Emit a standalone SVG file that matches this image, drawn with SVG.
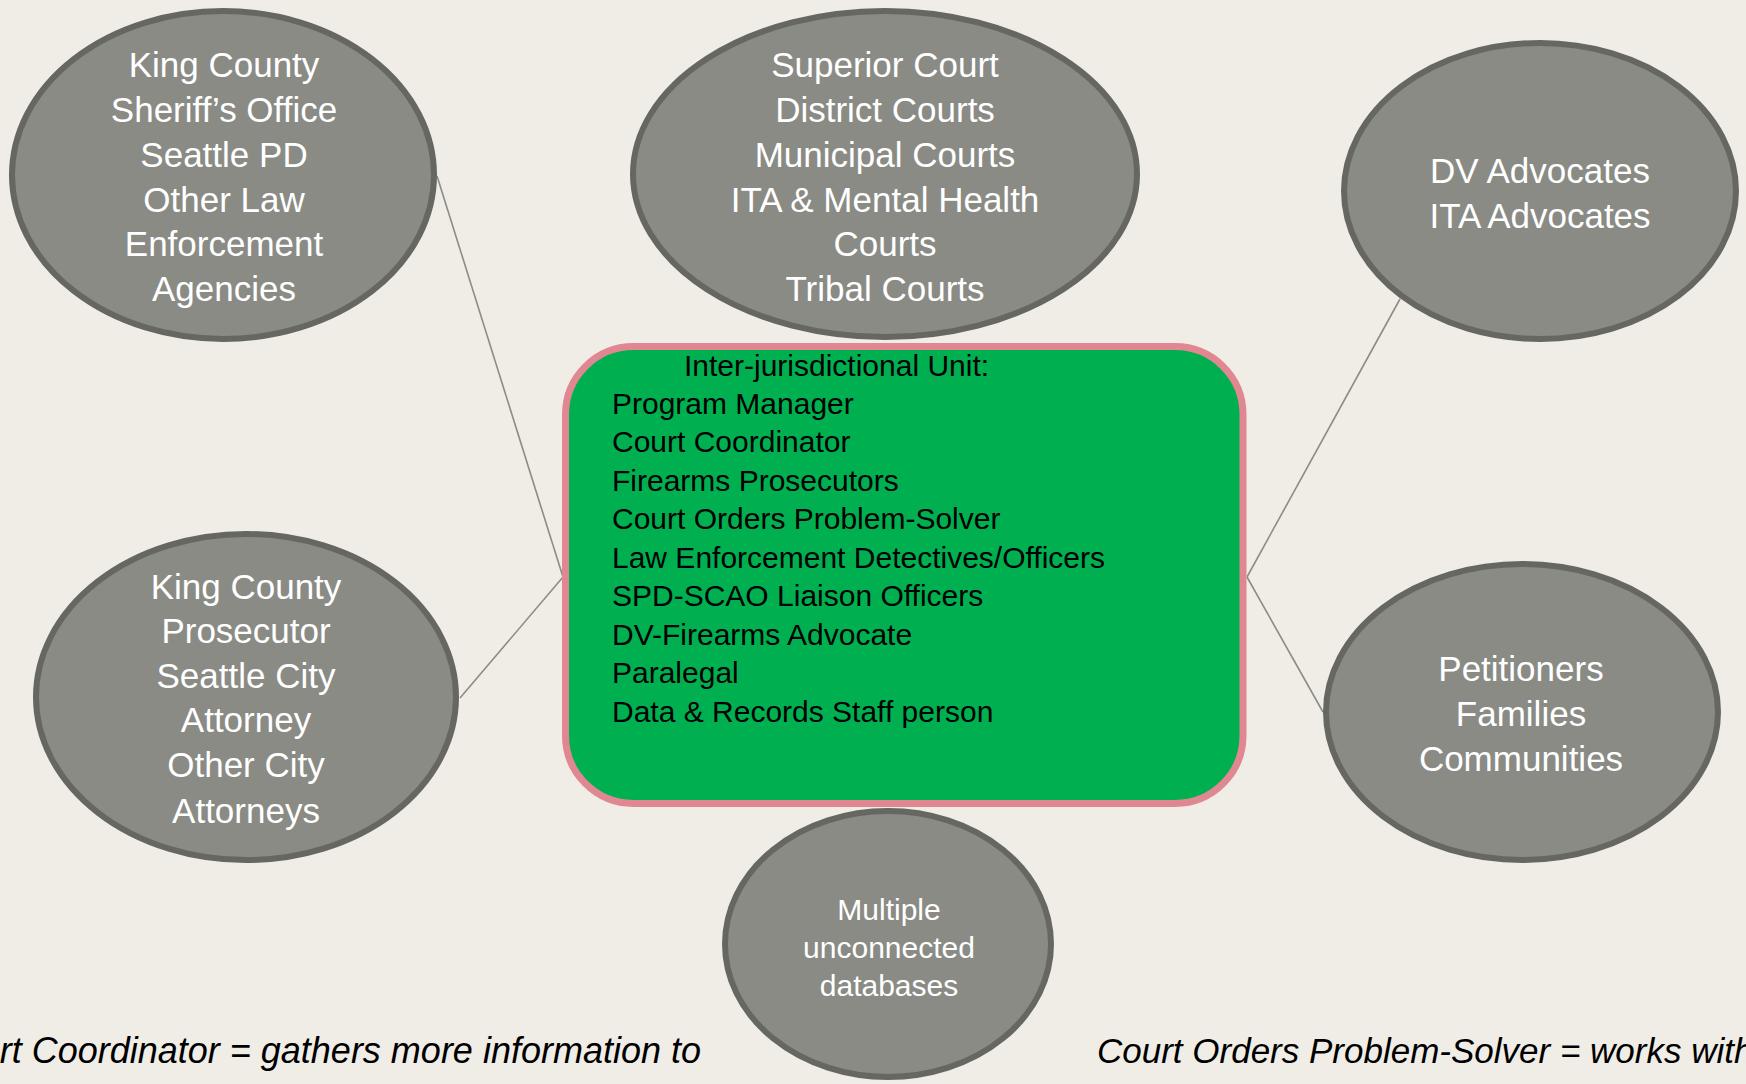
<svg xmlns="http://www.w3.org/2000/svg" width="1746" height="1084" viewBox="0 0 1746 1084">
  <style>
    .bg { fill: #efede6; }
    .oval { fill: #8a8b85; stroke: #666761; stroke-width: 6; }
    .oval-text { font-family: "Liberation Sans", Arial, sans-serif; font-size: 35px; fill: #ffffff; text-anchor: middle; }
    .oval-text.small { font-size: 30px; }
    .unit-box { fill: #00b050; stroke: #e08792; stroke-width: 7; }
    .unit-text { font-family: "Liberation Sans", Arial, sans-serif; font-size: 30px; fill: #000000; }
    .link { stroke: #8c8c84; stroke-width: 1.6; fill: none; }
    .note { font-family: "Liberation Sans", Arial, sans-serif; font-size: 35px; font-style: italic; fill: #000000; }
  </style>

  <rect class="bg" x="0" y="0" width="1746" height="1084"/>

  <!-- links between the unit and the partner groups -->
  <g id="connectors">
    <line class="link" x1="437" y1="176" x2="563" y2="577"/>
    <line class="link" x1="460" y1="698" x2="563" y2="577"/>
    <line class="link" x1="1400" y1="299" x2="1247" y2="577"/>
    <line class="link" x1="1247" y1="577" x2="1323" y2="712"/>
  </g>

  <g id="law-enforcement">
    <ellipse class="oval" cx="223" cy="175" rx="211" ry="164"/>
    <text class="oval-text" x="224" y="77">King County</text>
    <text class="oval-text" x="224" y="122">Sheriff’s Office</text>
    <text class="oval-text" x="224" y="167">Seattle PD</text>
    <text class="oval-text" x="224" y="212">Other Law</text>
    <text class="oval-text" x="224" y="256">Enforcement</text>
    <text class="oval-text" x="224" y="301">Agencies</text>
  </g>

  <g id="courts">
    <ellipse class="oval" cx="885" cy="174" rx="252" ry="163"/>
    <text class="oval-text" x="885" y="77">Superior Court</text>
    <text class="oval-text" x="885" y="122">District Courts</text>
    <text class="oval-text" x="885" y="167">Municipal Courts</text>
    <text class="oval-text" x="885" y="212">ITA &amp; Mental Health</text>
    <text class="oval-text" x="885" y="256">Courts</text>
    <text class="oval-text" x="885" y="301">Tribal Courts</text>
  </g>

  <g id="advocates">
    <ellipse class="oval" cx="1540" cy="191" rx="196" ry="148"/>
    <text class="oval-text" x="1540" y="183">DV Advocates</text>
    <text class="oval-text" x="1540" y="228">ITA Advocates</text>
  </g>

  <g id="prosecutors">
    <ellipse class="oval" cx="246" cy="697" rx="210" ry="163"/>
    <text class="oval-text" x="246" y="599">King County</text>
    <text class="oval-text" x="246" y="643">Prosecutor</text>
    <text class="oval-text" x="246" y="688">Seattle City</text>
    <text class="oval-text" x="246" y="732">Attorney</text>
    <text class="oval-text" x="246" y="777">Other City</text>
    <text class="oval-text" x="246" y="823">Attorneys</text>
  </g>

  <g id="community">
    <ellipse class="oval" cx="1522" cy="712" rx="196" ry="148"/>
    <text class="oval-text" x="1521" y="681">Petitioners</text>
    <text class="oval-text" x="1521" y="726">Families</text>
    <text class="oval-text" x="1521" y="771">Communities</text>
  </g>

  <g id="databases">
    <ellipse class="oval" cx="888" cy="944" rx="163" ry="133"/>
    <text class="oval-text small" x="889" y="920">Multiple</text>
    <text class="oval-text small" x="889" y="958">unconnected</text>
    <text class="oval-text small" x="889" y="996">databases</text>
  </g>

  <g id="inter-jurisdictional-unit">
    <rect class="unit-box" x="565.5" y="346.5" width="677.5" height="457" rx="68" ry="68"/>
    <text class="unit-text" x="684" y="376">Inter-jurisdictional Unit:</text>
    <text class="unit-text" x="612" y="414">Program Manager</text>
    <text class="unit-text" x="612" y="452">Court Coordinator</text>
    <text class="unit-text" x="612" y="491">Firearms Prosecutors</text>
    <text class="unit-text" x="612" y="529">Court Orders Problem-Solver</text>
    <text class="unit-text" x="612" y="568">Law Enforcement Detectives/Officers</text>
    <text class="unit-text" x="612" y="606">SPD-SCAO Liaison Officers</text>
    <text class="unit-text" x="612" y="645">DV-Firearms Advocate</text>
    <text class="unit-text" x="612" y="683">Paralegal</text>
    <text class="unit-text" x="612" y="722">Data &amp; Records Staff person</text>
  </g>

  <!-- role notes running off the page edges -->
  <g id="notes">
    <text class="note" x="701" y="1063" text-anchor="end" style="font-size:36px">Court Coordinator = gathers more information to</text>
    <text class="note" x="1097" y="1063">Court Orders Problem-Solver = works with</text>
  </g>
</svg>
